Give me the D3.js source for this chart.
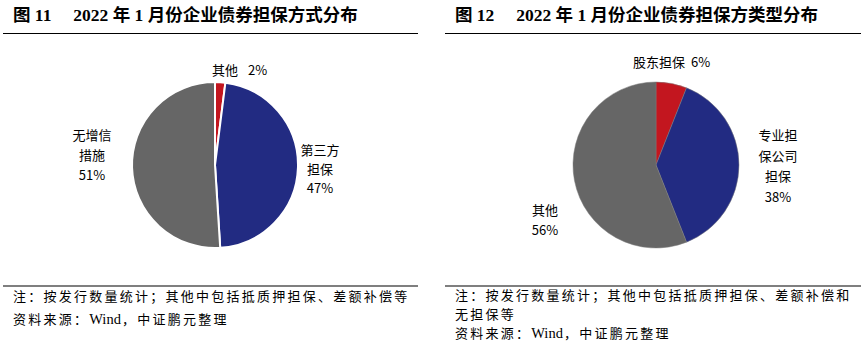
<!DOCTYPE html>
<html><head><meta charset="utf-8">
<script src="https://cdn.jsdelivr.net/npm/d3@7"></script>
<style>body{margin:0;background:#fff}svg{display:block}</style>
</head><body>
<svg id="c" width="864" height="354"></svg>
<script>
const titles = ["图 11\u3000 2022 年 1 月份企业债券担保方式分布", "图 12\u3000 2022 年 1 月份企业债券担保方类型分布"];
const cats1 = ["其他", "第三方担保", "无增信措施"];
const vals1 = [2, 47, 51];
const cats2 = ["股东担保", "专业担保公司担保", "其他"];
const vals2 = [6, 38, 56];
const colors = ["#C3161F", "#222B82", "#666666"];
const notes1 = ["注：按发行数量统计；其他中包括抵质押担保、差额补偿等"];
const notes2 = ["注：按发行数量统计；其他中包括抵质押担保、差额补偿和", "无担保等"];
const source = ["资料来源：", "Wind", "，中证鹏元整理"];

const svg = d3.select("#c");
const cjk = "'Noto Sans CJK SC', sans-serif";
const serifBold = "'Liberation Serif', 'Noto Sans CJK SC', serif";

function panel(x0, x1, title, cats, vals, cx, stroke, sw, labels, notes, noteY) {
  svg.append("text").attr("x", x0 + 10).attr("y", 21)
    .attr("font-family", serifBold).attr("font-weight", "bold").attr("font-size", 17.5)
    .attr("fill", "#000").text(title);
  svg.append("line").attr("x1", x0).attr("x2", x1).attr("y1", 33.5).attr("y2", 33.5)
    .attr("stroke", "#000").attr("stroke-width", 1.2);
  svg.append("line").attr("x1", x0).attr("x2", x1).attr("y1", 286).attr("y2", 286)
    .attr("stroke", "#000").attr("stroke-width", 1.2);

  const pie = d3.pie().sort(null).value(d => d)(vals);
  const arc = d3.arc().innerRadius(0).outerRadius(83);
  const g = svg.append("g").attr("transform", `translate(${cx},165)`);
  g.selectAll("path").data(pie).join("path")
    .attr("d", arc).attr("fill", (d, i) => colors[i])
    .attr("stroke", stroke).attr("stroke-width", sw);

  labels.forEach((L) => {
    const t = svg.append("text").attr("font-family", cjk).attr("font-size", 13)
      .attr("fill", "#000").attr("text-anchor", L.anchor || "middle");
    if (L.pair) {
      t.attr("x", L.x).attr("y", L.y);
      t.append("tspan").text(L.pair[0]);
      t.append("tspan").attr("dx", L.gap).text(L.pair[1]);
      return;
    }
    L.lines.forEach((ln, j) => {
      t.append("tspan").attr("x", L.x).attr("y", L.y + j * L.dy).text(ln);
    });
  });

  const nf = 13, ls = 2.25;
  notes.forEach((n, j) => {
    svg.append("text").attr("x", x0 + 10).attr("y", noteY[j])
      .attr("font-family", cjk).attr("font-size", nf).attr("letter-spacing", ls)
      .attr("fill", "#000").text(n);
  });
  const s = svg.append("text").attr("x", x0 + 10).attr("y", noteY[notes.length])
    .attr("font-family", cjk).attr("font-size", nf).attr("letter-spacing", ls).attr("fill", "#000");
  s.append("tspan").text(source[0]);
  s.append("tspan").attr("font-family", "'Liberation Serif', serif").attr("font-size", 14.5)
    .attr("letter-spacing", 0).text(source[1]);
  s.append("tspan").attr("dx", 1).text(source[2]);
}

const pct = v => v + "%";

panel(3, 418, titles[0], cats1, vals1, 215, "#fff", 2, [
  {x: 212, y: 75, anchor: "start", pair: [cats1[0], pct(vals1[0])], gap: 10},
  {x: 320, y: 155, dy: 19, lines: ["第三方", "担保", pct(vals1[1])]},
  {x: 92, y: 140, dy: 20, lines: ["无增信", "措施", pct(vals1[2])]}
], notes1, [301, 324]);

panel(445, 861, titles[1], cats2, vals2, 656, "#7a7a7a", 0.5, [
  {x: 633, y: 67, anchor: "start", pair: [cats2[0], pct(vals2[0])], gap: 6},
  {x: 778, y: 140, dy: 20.5, lines: ["专业担", "保公司", "担保", pct(vals2[1])]},
  {x: 545, y: 215, dy: 20, lines: [cats2[2], pct(vals2[2])]}
], notes2, [300, 319, 338]);
</script>
</body></html>
